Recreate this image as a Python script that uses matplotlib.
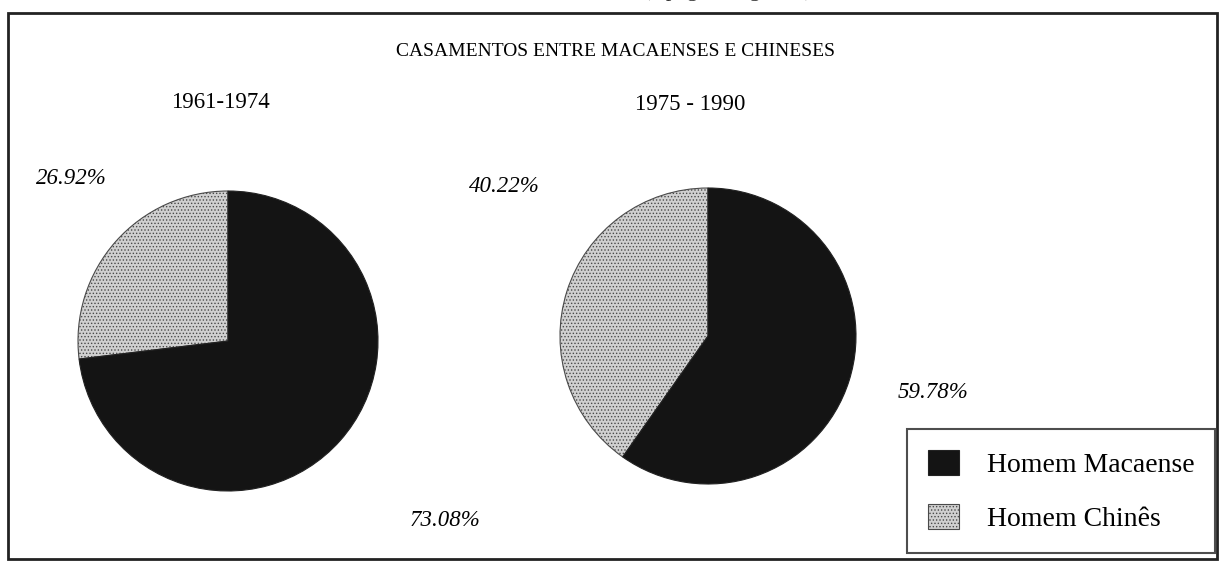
import matplotlib.pyplot as plt
from matplotlib.patches import Rectangle

# data
title = "CASAMENTOS ENTRE MACAENSES E CHINESES"
periods = ["1961-1974", "1975 - 1990"]
categories = ["Homem Chinês", "Homem Macaense"]
share_1961 = [26.92, 73.08]
share_1975 = [40.22, 59.78]

W, H = 1222, 563
plt.rcParams['font.family'] = ['Liberation Serif', 'DejaVu Serif']
plt.rcParams['hatch.linewidth'] = 0.6

fig = plt.figure(figsize=(W / 100, H / 100), dpi=100)
ax = fig.add_axes([0, 0, 1, 1])

colors = ['#d0d0d0', '#141414']
hatches = ['.....', None]

def draw_pie(vals, cx, cy, r):
    wedges, _ = ax.pie(vals, colors=colors, startangle=90, counterclock=True,
                       center=(cx, H - cy), radius=r, frame=True,
                       wedgeprops=dict(linewidth=0.8, edgecolor='#222222'))
    for w, h in zip(wedges, hatches):
        if h:
            w.set_hatch(h)
            w.set_edgecolor('#4a4a4a')
    return wedges

w1 = draw_pie(share_1961, 228, 341, 150)
w2 = draw_pie(share_1975, 708, 336, 148)
ax.set_xlim(0, W)
ax.set_ylim(0, H)
ax.set_aspect('auto')
ax.axis('off')

# outer frame
ax.add_patch(Rectangle((8, H - 559), 1209, 546, fill=False, lw=2, ec='#222222'))

# cut-off text at the top of the scan
ax.text(728, H + 4, "(a página seguinte)", ha='center', va='baseline',
        fontsize=16, color='#333333', clip_on=False)

ax.text(615, H - 52, title, ha='center', va='center', fontsize=14)
ax.text(220, H - 103, periods[0], ha='center', va='center', fontsize=16.5)
ax.text(690, H - 105, periods[1], ha='center', va='center', fontsize=16.5)

pct_style = dict(fontsize=16.5, style='italic', va='center', ha='center')
ax.text(71, H - 178, f"{share_1961[0]:.2f}%", **pct_style)
ax.text(445, H - 520, f"{share_1961[1]:.2f}%", **pct_style)
ax.text(504, H - 186, f"{share_1975[0]:.2f}%", **pct_style)
ax.text(933, H - 392, f"{share_1975[1]:.2f}%", **pct_style)

leg = ax.legend([w1[1], w1[0]], [categories[1], categories[0]],
                loc='lower right', bbox_to_anchor=(1215 / W, 10 / H),
                bbox_transform=fig.transFigure, fontsize=20,
                frameon=True, fancybox=False, edgecolor='#222222',
                handlelength=1.1, handleheight=1.0, handletextpad=1.0,
                labelspacing=0.95, borderpad=0.75, borderaxespad=0)
leg.get_frame().set_linewidth(1.5)

fig.savefig("out.png", dpi=100)
